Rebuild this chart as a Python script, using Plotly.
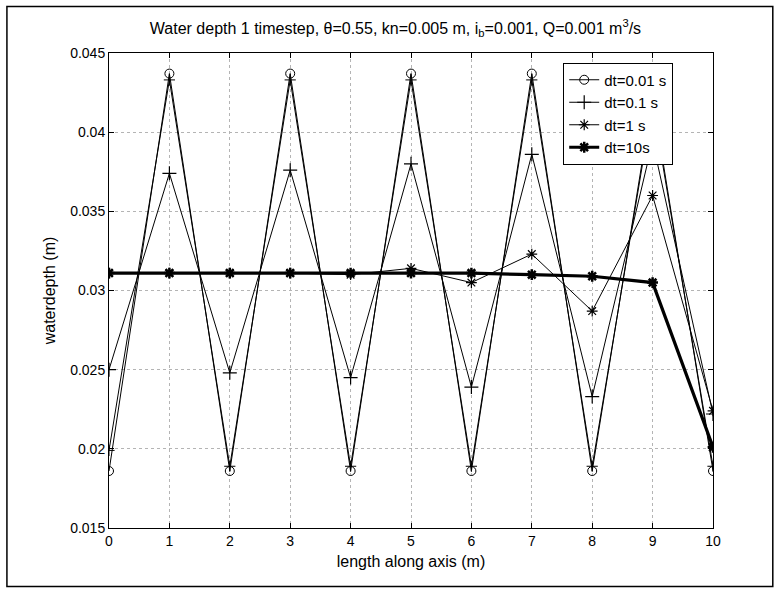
import plotly.graph_objects as go

# Node positions along the channel (m)
x_nodes = [0, 1, 2, 3, 4, 5, 6, 7, 8, 9, 10]

# Water depth after one timestep (m) for each timestep size
depth_dt001 = [0.0186, 0.0437, 0.0186, 0.0437, 0.0186, 0.0437, 0.0186, 0.0437, 0.0186, 0.0422, 0.0186]
depth_dt01_a = [0.0199, 0.0433, 0.0189, 0.0433, 0.0189, 0.0433, 0.0189, 0.0433, 0.0189, 0.0418, 0.0189]
depth_dt01 = [0.0250, 0.0374, 0.0248, 0.0376, 0.0245, 0.0380, 0.0239, 0.0386, 0.0233, 0.0394, 0.0222]
depth_dt1 = [0.0311, 0.0311, 0.0311, 0.0311, 0.0310, 0.0314, 0.0305, 0.0323, 0.0287, 0.0360, 0.0224]
depth_dt10 = [0.0311, 0.0311, 0.0311, 0.0311, 0.0311, 0.0311, 0.0311, 0.0310, 0.0309, 0.0305, 0.0201]

x_ticks = [0, 1, 2, 3, 4, 5, 6, 7, 8, 9, 10]
y_ticks = [0.015, 0.02, 0.025, 0.03, 0.035, 0.04, 0.045]
y_tick_labels = ["0.015", "0.02", "0.025", "0.03", "0.035", "0.04", "0.045"]

FONT = "Liberation Sans, Arial, sans-serif"

fig = go.Figure()

fig.add_trace(go.Scatter(
    x=x_nodes, y=depth_dt001, name="dt=0.01 s", mode="lines+markers",
    line=dict(color="black", width=1),
    marker=dict(symbol="circle-open", size=9, color="black", line=dict(width=1)),
))
fig.add_trace(go.Scatter(
    x=x_nodes, y=depth_dt01_a, name="dt=0.1 s (a)", mode="lines+markers", showlegend=False,
    line=dict(color="black", width=1),
    marker=dict(symbol="cross-thin-open", size=8, color="black", line=dict(width=1)),
))
fig.add_trace(go.Scatter(
    x=x_nodes, y=depth_dt01, name="dt=0.1 s", mode="lines+markers",
    line=dict(color="black", width=1),
    marker=dict(symbol="cross-thin-open", size=10, color="black", line=dict(width=1.2)),
))
fig.add_trace(go.Scatter(
    x=x_nodes, y=depth_dt1, name="dt=1 s", mode="lines+markers",
    line=dict(color="black", width=1),
    marker=dict(symbol="asterisk-open", size=9, color="black", line=dict(width=1.2)),
))
fig.add_trace(go.Scatter(
    x=x_nodes, y=depth_dt10, name="dt=10s", mode="lines+markers",
    line=dict(color="black", width=3.2),
    marker=dict(symbol="asterisk-open", size=9, color="black", line=dict(width=2.5)),
))

axis_common = dict(
    showline=True, linecolor="black", linewidth=1, mirror="ticks",
    ticks="inside", ticklen=5, tickcolor="black",
    showgrid=True, gridcolor="#b4b4b4", griddash="dot", gridwidth=1,
    zeroline=False,
    tickfont=dict(family=FONT, size=14, color="black"),
)

fig.update_xaxes(
    range=[0, 10], tickvals=x_ticks,
    title=dict(text="length along axis (m)", font=dict(family=FONT, size=16, color="black"), standoff=8),
    **axis_common,
)
fig.update_yaxes(
    range=[0.015, 0.045], tickvals=y_ticks, ticktext=y_tick_labels,
    title=dict(text="waterdepth (m)", font=dict(family=FONT, size=16, color="black"), standoff=10),
    **axis_common,
)

fig.update_layout(
    width=780, height=592,
    margin=dict(l=109, r=67, t=53, b=64),
    paper_bgcolor="white", plot_bgcolor="white",
    title=dict(
        text="Water depth 1 timestep, θ=0.55, kn=0.005 m, i<sub>b</sub>=0.001, Q=0.001 m<sup>3</sup>/s",
        x=0.507, xanchor="center", y=0.952, yanchor="middle",
        font=dict(family=FONT, size=16, color="black"),
    ),
    legend=dict(
        x=0.752, y=0.980, xanchor="left", yanchor="top",
        bgcolor="white", bordercolor="black", borderwidth=1,
        font=dict(family=FONT, size=15, color="black"),
        tracegroupgap=0, itemwidth=30,
    ),
    showlegend=True,
    shapes=[dict(
        type="rect", xref="paper", yref="paper",
        x0=-0.169, x1=1.099, y0=-0.123, y1=1.098,
        line=dict(color="black", width=1.5), fillcolor="rgba(0,0,0,0)", layer="below",
    )],
)

fig.write_html("out.html")
